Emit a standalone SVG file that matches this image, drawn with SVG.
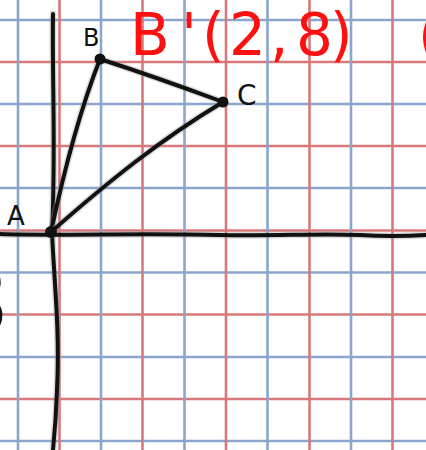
<svg xmlns="http://www.w3.org/2000/svg" width="426" height="450" viewBox="0 0 426 450">
  <style>
    .blue { stroke: #8aa6cc; stroke-width: 2.6; }
    .red { stroke: #d9787a; stroke-width: 2.6; }
    .ink { fill: none; stroke: #111; stroke-width: 4; stroke-linecap: round; stroke-linejoin: round; }
    .halo { fill: none; stroke: #999; stroke-width: 7; stroke-linecap: round; opacity: 0.35; }
    .lbl { font-family: "DejaVu Sans", "Liberation Sans", sans-serif; fill: #111; }
    .redtxt { font-family: "DejaVu Sans", "Liberation Sans", sans-serif; fill: #ff1010; font-size: 58px; }
  </style>
  <rect width="426" height="450" fill="#ffffff"/>
  <g id="grid">
    <g class="blue">
      <line x1="0" y1="20" x2="426" y2="20"/>
      <line x1="0" y1="104" x2="426" y2="104"/>
      <line x1="0" y1="188" x2="426" y2="188"/>
      <line x1="0" y1="272.5" x2="426" y2="272.5"/>
      <line x1="0" y1="357" x2="426" y2="357"/>
      <line x1="0" y1="441" x2="426" y2="441"/>
    </g>
    <g class="red">
      <line x1="0" y1="62" x2="426" y2="62"/>
      <line x1="0" y1="146" x2="426" y2="146"/>
      <line x1="0" y1="230.5" x2="426" y2="230.5"/>
      <line x1="0" y1="314.5" x2="426" y2="314.5"/>
      <line x1="0" y1="399" x2="426" y2="399"/>
    </g>
    <g class="blue">
      <line x1="18" y1="0" x2="18" y2="450"/>
      <line x1="101" y1="0" x2="101" y2="450"/>
      <line x1="184.5" y1="0" x2="184.5" y2="450"/>
      <line x1="267.5" y1="0" x2="267.5" y2="450"/>
      <line x1="351" y1="0" x2="351" y2="450"/>
    </g>
    <g class="red">
      <line x1="59.5" y1="0" x2="59.5" y2="450"/>
      <line x1="142.5" y1="0" x2="142.5" y2="450"/>
      <line x1="226" y1="0" x2="226" y2="450"/>
      <line x1="309.5" y1="0" x2="309.5" y2="450"/>
      <line x1="392.5" y1="0" x2="392.5" y2="450"/>
    </g>
  </g>
  <g id="axes">
    <path class="halo" d="M53,14 C52,80 56,150 52,232 C54,280 60,330 57,390 C56,420 54,440 53,450"/>
    <path class="ink" d="M53,14 C52,80 56,150 52,232 C54,280 60,330 57,390 C56,420 54,440 53,450"/>
    <path class="halo" d="M0,234 C60,236 140,233 220,235 C280,236 320,233 360,235 C390,237 410,236 426,235"/>
    <path class="ink" d="M0,234 C60,236 140,233 220,235 C280,236 320,233 360,235 C390,237 410,236 426,235"/>
  </g>
  <g id="connectors">
    <path class="halo" d="M51,232 C62,180 80,110 100,59"/>
    <path class="ink" d="M51,232 C62,180 80,110 100,59"/>
    <path class="halo" d="M100,59 C140,72 180,86 223,102"/>
    <path class="ink" d="M100,59 C140,72 180,86 223,102"/>
    <path class="halo" d="M223,102 C160,140 110,180 51,232"/>
    <path class="ink" d="M223,102 C160,140 110,180 51,232"/>
  </g>
  <g id="node-A">
    <circle cx="51" cy="232" r="6" fill="#111"/>
    <text class="lbl" x="7" y="225" font-size="26">A</text>
  </g>
  <g id="node-B">
    <circle cx="100" cy="59" r="5.5" fill="#111"/>
    <text class="lbl" x="83" y="46" font-size="24">B</text>
  </g>
  <g id="node-C">
    <circle cx="223" cy="102" r="5.5" fill="#111"/>
    <text class="lbl" x="237" y="105" font-size="28">C</text>
  </g>
  <g id="annotation">
    <text class="redtxt" x="130 181 202 229 270 296 330" y="55">B'(2,8)</text>
    <text class="redtxt" x="418" y="56">(</text>
    <text class="lbl" x="-51" y="336" font-size="96">3</text>
  </g>
</svg>
